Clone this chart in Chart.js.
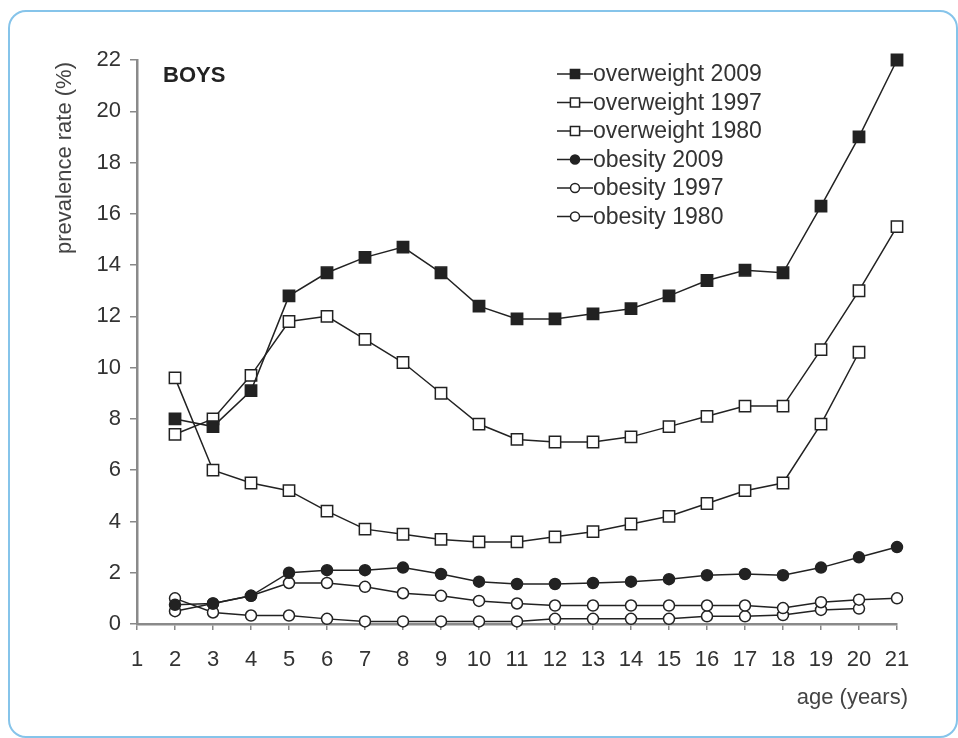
<!DOCTYPE html>
<html>
<head>
<meta charset="utf-8">
<script src="https://cdn.jsdelivr.net/npm/chart.js@4.4.1/dist/chart.umd.min.js"></script>
<style>
    html, body { margin: 0; padding: 0; background: #fff; }
    #wrap { position: relative; width: 958px; height: 738px; }
    #frame {
        position: absolute; left: 8px; top: 10px; width: 946px; height: 724px;
        border: 2px solid #86c4ea; border-radius: 18px; pointer-events: none;
    }
    canvas { position: absolute; left: 0; top: 0; }
</style>
</head>
<body>
<div id="wrap">
    <canvas id="chart" width="958" height="738"></canvas>
    <div id="frame"></div>
</div>
<script>
const ages = [2, 3, 4, 5, 6, 7, 8, 9, 10, 11, 12, 13, 14, 15, 16, 17, 18, 19, 20, 21];
const overweight2009 = [8.0, 7.7, 9.1, 12.8, 13.7, 14.3, 14.7, 13.7, 12.4, 11.9, 11.9, 12.1, 12.3, 12.8, 13.4, 13.8, 13.7, 16.3, 19.0, 22.0];
const overweight1997 = [7.4, 8.0, 9.7, 11.8, 12.0, 11.1, 10.2, 9.0, 7.8, 7.2, 7.1, 7.1, 7.3, 7.7, 8.1, 8.5, 8.5, 10.7, 13.0, 15.5];
const overweight1980 = [9.6, 6.0, 5.5, 5.2, 4.4, 3.7, 3.5, 3.3, 3.2, 3.2, 3.4, 3.6, 3.9, 4.2, 4.7, 5.2, 5.5, 7.8, 10.6, null];
const obesity2009 = [0.75, 0.8, 1.1, 2.0, 2.1, 2.1, 2.2, 1.95, 1.65, 1.56, 1.56, 1.6, 1.65, 1.75, 1.9, 1.95, 1.9, 2.2, 2.6, 3.0];
const obesity1997 = [0.5, 0.8, 1.1, 1.6, 1.6, 1.45, 1.2, 1.1, 0.9, 0.8, 0.72, 0.72, 0.72, 0.72, 0.72, 0.72, 0.62, 0.85, 0.95, 1.0];
const obesity1980 = [1.0, 0.45, 0.33, 0.33, 0.2, 0.1, 0.1, 0.1, 0.1, 0.1, 0.2, 0.2, 0.2, 0.2, 0.3, 0.3, 0.35, 0.55, 0.6, null];
const seriesNames = ['overweight 2009', 'overweight 1997', 'overweight 1980', 'obesity 2009', 'obesity 1997', 'obesity 1980'];
const xTicksMin = 1, xTicksMax = 21;
const yTicksMin = 0, yTicksMax = 22, yStep = 2;

const FONT = '"Liberation Sans", Arial, sans-serif';
const INK = '#222';

function points(values) {
    return ages.map((a, i) => ({ x: a, y: values[i] }));
}

function series(label, values, style, filled) {
    return {
        label: label,
        data: points(values),
        borderColor: INK,
        borderWidth: 1.5,
        pointStyle: style,
        pointRadius: style === 'rect' ? 8 : 5.5,
        pointBorderWidth: 1.5,
        pointBorderColor: INK,
        pointBackgroundColor: filled ? INK : '#fff',
        spanGaps: false,
        clip: false,
        tension: 0
    };
}

const datasets = [
    series(seriesNames[0], overweight2009, 'rect', true),
    series(seriesNames[1], overweight1997, 'rect', false),
    series(seriesNames[2], overweight1980, 'rect', false),
    series(seriesNames[3], obesity2009, 'circle', true),
    series(seriesNames[4], obesity1997, 'circle', false),
    series(seriesNames[5], obesity1980, 'circle', false)
];

// legend, panel label and axis titles drawn by hand
const decorations = {
    id: 'decorations',
    afterDraw(chart) {
        const ctx = chart.ctx;
        ctx.save();
        ctx.fillStyle = '#222';
        ctx.font = 'bold 22px ' + FONT;
        ctx.textBaseline = 'middle';
        ctx.textAlign = 'left';
        ctx.fillText('BOYS', 163, 76);

        ctx.font = '23px ' + FONT;
        chart.data.datasets.forEach((ds, i) => {
            const y = 74 + i * 28.5;
            ctx.strokeStyle = INK;
            ctx.lineWidth = 1.5;
            ctx.beginPath();
            ctx.moveTo(557, y);
            ctx.lineTo(593, y);
            ctx.stroke();
            ctx.fillStyle = ds.pointBackgroundColor;
            Chart.helpers.drawPoint(ctx, {
                pointStyle: ds.pointStyle,
                radius: ds.pointStyle === 'rect' ? 6.5 : 4.5,
                rotation: 0,
                borderWidth: 1.5
            }, 575, y);
            ctx.fillStyle = '#333';
            ctx.fillText(ds.label, 593, y + 1);
        });

        ctx.font = '22px ' + FONT;
        ctx.fillStyle = '#444';
        ctx.textAlign = 'right';
        ctx.fillText('age (years)', 908, 698);

        ctx.translate(65, 158);
        ctx.rotate(-Math.PI / 2);
        ctx.textAlign = 'center';
        ctx.fillText('prevalence rate (%)', 0, 0);
        ctx.restore();
    }
};

new Chart(document.getElementById('chart'), {
    type: 'line',
    data: { datasets: datasets },
    options: {
        responsive: false,
        devicePixelRatio: 1,
        animation: false,
        layout: { padding: { left: 0, top: 60, right: 61, bottom: 0 } },
        plugins: {
            legend: { display: false },
            tooltip: { enabled: false }
        },
        scales: {
            x: {
                type: 'linear',
                min: xTicksMin,
                max: xTicksMax,
                afterFit: s => { s.height = 114; },
                ticks: {
                    stepSize: 1,
                    autoSkip: false,
                    maxRotation: 0,
                    padding: 17,
                    color: '#333',
                    font: { family: FONT, size: 22 }
                },
                grid: { drawOnChartArea: false, tickLength: 6, color: '#888', lineWidth: 1.5 },
                border: { color: '#8a8a8a', width: 2.5 }
            },
            y: {
                min: yTicksMin,
                max: yTicksMax,
                afterFit: s => { s.width = 137; },
                ticks: {
                    stepSize: yStep,
                    padding: 9,
                    color: '#333',
                    font: { family: FONT, size: 22 }
                },
                grid: { drawOnChartArea: false, tickLength: 7, color: '#888', lineWidth: 1.5 },
                border: { color: '#8a8a8a', width: 2.5 }
            }
        }
    },
    plugins: [decorations]
});
</script>
</body>
</html>
